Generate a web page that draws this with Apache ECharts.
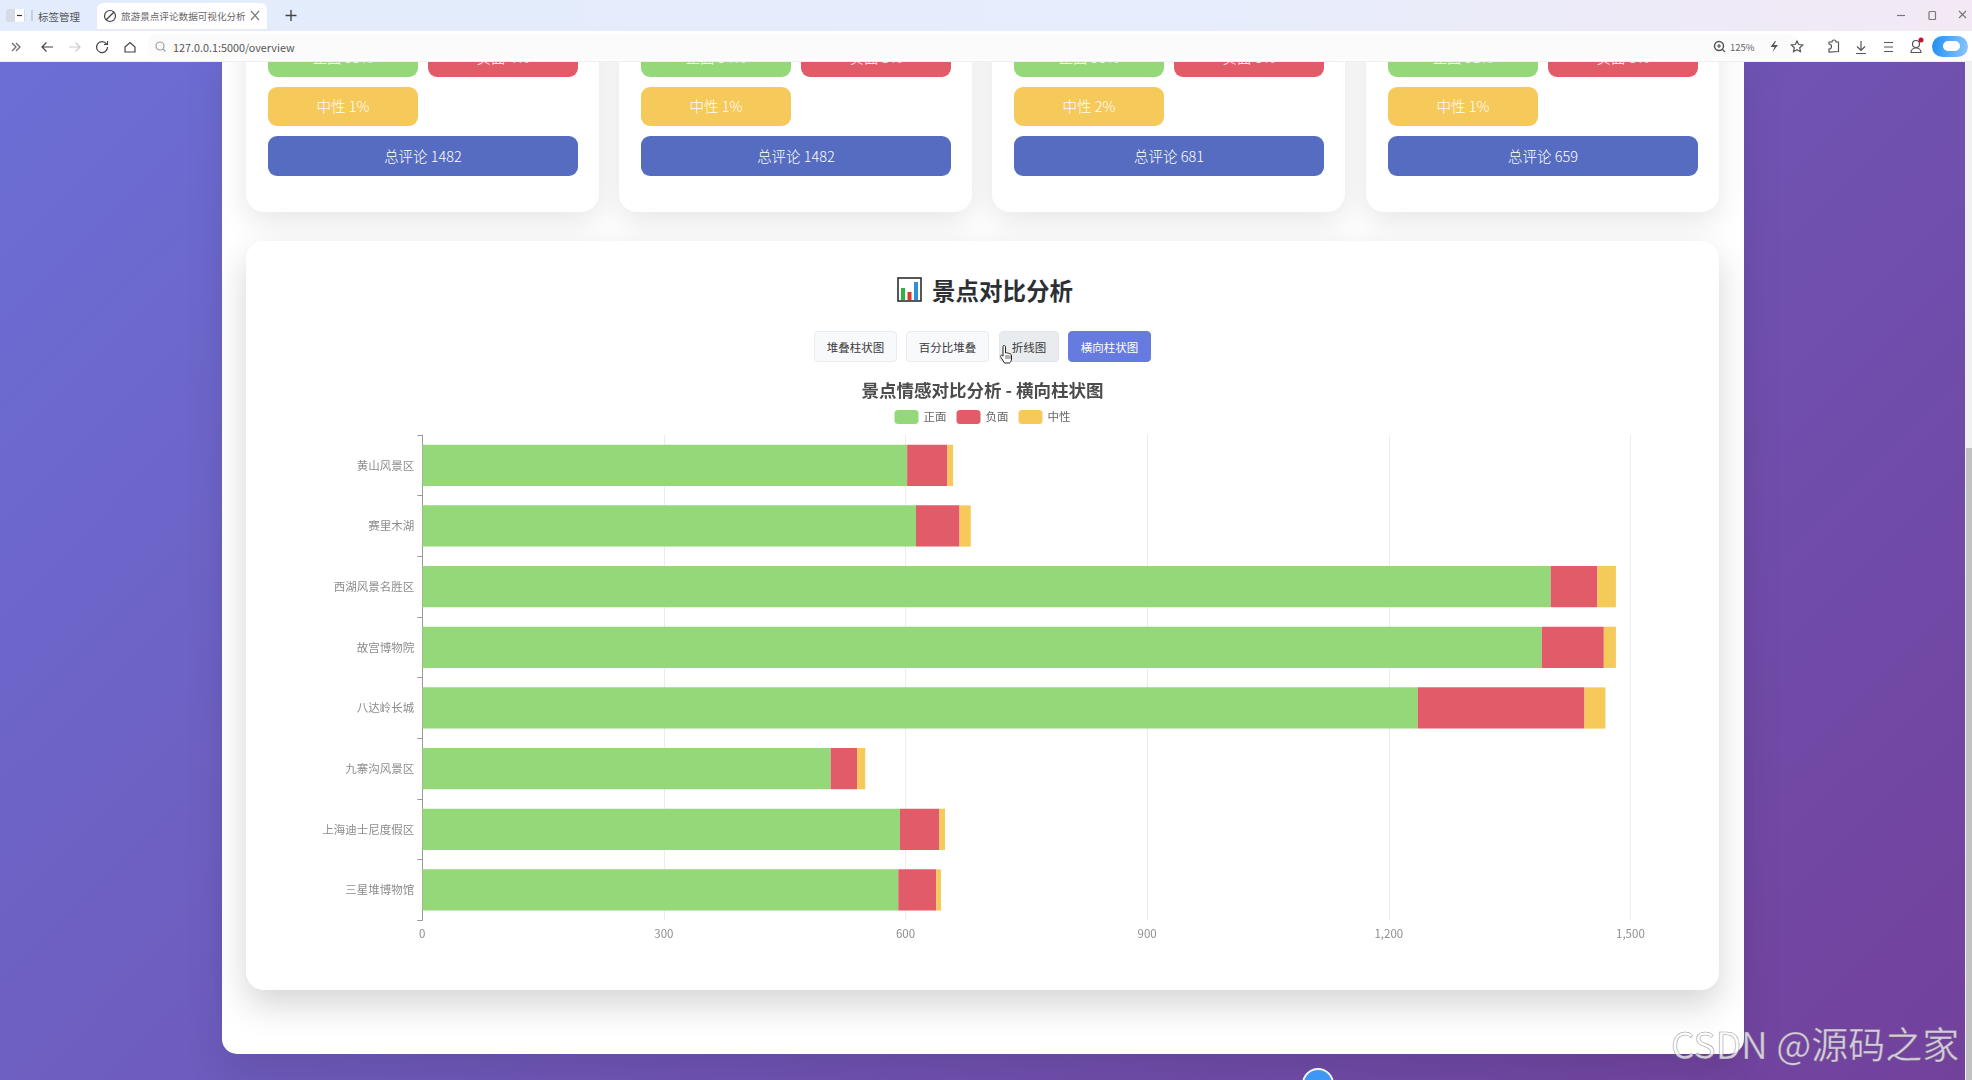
<!DOCTYPE html>
<html lang="zh">
<head>
<meta charset="utf-8">
<title>旅游景点评论数据可视化分析系统</title>
<script src="https://cdn.jsdelivr.net/npm/echarts@6/dist/echarts.min.js"></script>
<style>
*{box-sizing:border-box}
html,body{margin:0;padding:0;width:1972px;height:1080px;overflow:hidden;background:#6a5fc0;font-family:"Noto Sans CJK SC","Noto Sans",sans-serif}
.abs{position:absolute}
#bg{left:0;top:-300px;width:1972px;height:1380px;background:linear-gradient(135deg,#6b74dc 0%,#72419c 100%)}
#shell{left:222px;top:40px;width:1522px;height:1014px;background:#fff;border-radius:0 0 15px 15px;box-shadow:0 20px 40px rgba(0,0,0,.1)}
.card{position:absolute;background:#fff;border-radius:18px;box-shadow:0 10px 30px rgba(0,0,0,.1)}
.pill{position:absolute;color:#fff;font-size:14.5px;font-weight:300;display:flex;align-items:center;justify-content:center;border-radius:9px;padding-bottom:2px}
#chartCard{left:246px;top:241px;width:1473px;height:749px;background:#fff;border-radius:18px;box-shadow:0 15px 35px rgba(0,0,0,.17)}
#heading{left:932px;top:272px;white-space:nowrap;font-size:23.5px;font-weight:700;color:#2c3034;line-height:36px}
.btn{position:absolute;top:331px;height:31px;border-radius:4px;font-size:11.5px;display:flex;align-items:center;justify-content:center;color:#3a3a3a;background:#f8f9fa;border:1px solid #e9ecef}
#main{left:246px;top:370px;width:1473px;height:600px}
#tabbar{left:0;top:0;width:1972px;height:31px;background:linear-gradient(90deg,#e3ecfc 0%,#e6edfc 60%,#f3e9f5 100%)}
#toolbar{left:0;top:31px;width:1972px;height:31px;background:#fff;border-bottom:1px solid #eceef1}
#urlbox{left:148px;top:34px;width:1650px;height:25px;background:#fbfbfc;border-radius:8px}
.t{position:absolute;white-space:nowrap;color:#555}
#scroll{left:1965px;top:62px;width:7px;height:1018px;background:#f1f1f1}
#thumb{left:1966px;top:448px;width:6px;height:632px;background:#c2c2c2}
#wm{left:1671px;top:1018px;font-size:37px;color:rgba(255,255,255,.72);white-space:nowrap;-webkit-text-stroke:.6px rgba(90,90,90,.65);line-height:50px}
</style>
</head>
<body>
<div id="bg" class="abs"></div>
<div id="shell" class="abs"></div>
<div id="cards"></div>
<div id="chartCard" class="abs"></div>

<svg class="abs" style="left:897px;top:277px" width="25" height="25" viewBox="0 0 25 25">
<rect x="1" y="1" width="23" height="23" fill="#fff" stroke="#2a2f33" stroke-width="1.6"/>
<rect x="4" y="11" width="4" height="12" fill="#2fb344"/><rect x="10.5" y="15" width="4" height="8" fill="#d8392b"/><rect x="17" y="5" width="4" height="18" fill="#2f8fd8"/>
</svg>
<div id="heading" class="abs">景点对比分析</div>
<div id="btns"></div>
<div id="main" class="abs"></div>

<svg class="abs" style="left:999px;top:344px" width="16" height="20" viewBox="0 0 16 20">
<path d="M5 1.5c1 0 1.5.6 1.5 1.500v6l1-.3 1 .3 1 .2 1.200.4c1 .3 1.800 1 1.800 2.400v3c0 1.500-1 3.500-2 4H5.500L2 13.500c-.7-.9-.6-1.800.1-2.200.6-.3 1.200 0 1.900.9V3c0-.9.1-1.500 1-1.500z" fill="#fff" stroke="#222" stroke-width="1"/>
<path d="M7 11v4M9 11v4M11 11.500v3.500" stroke="#222" stroke-width=".7"/>
</svg>

<div id="scroll" class="abs"></div><div id="thumb" class="abs"></div>
<div class="abs" style="left:1302px;top:1068px;width:32px;height:32px;border-radius:50%;background:#3f97f4;border:2px solid #f2f6fb"></div>
<div id="wm" class="abs">CSDN @源码之家</div>

<div id="tabbar" class="abs"></div>
<div class="abs" style="left:97px;top:3px;width:170px;height:26px;background:#fff;border-radius:6px 6px 0 0"></div>
<div id="toolbar" class="abs"></div>
<div id="urlbox" class="abs"></div>
<svg class="abs" style="left:0;top:0" width="1972" height="62" viewBox="0 0 1972 62" fill="none" stroke="#555" stroke-width="1.2">
<rect x="6" y="9" width="19" height="13" rx="2.500" fill="#d6dbe6" stroke="none"/><rect x="15" y="9" width="9" height="13" fill="#fff" stroke="none"/><path d="M17 15.500h5" stroke="#333"/><path d="M32 10v11" stroke="#b5bac4"/>
<circle cx="110" cy="16" r="5.500" stroke="#444"/><path d="M106 20l8-8" stroke="#444"/>
<path d="M251 11l8 9M259 11l-8 9" stroke="#777"/>
<path d="M291 10v11M285.500 15.500h11" stroke="#444" stroke-width="1.400"/>
<path d="M12 43l4 4-4 4M16 43l4 4-4 4" stroke="#666"/>
<path d="M42 47h11M46.500 42.500L42 47l4.500 4.500" stroke="#444"/>
<path d="M69 47h11M75.500 42.500L80 47l-4.500 4.500" stroke="#c9ccd1"/>
<path d="M106.500 44a5.500 5.500 0 1 0 1 3M107.500 41v3.500H104" stroke="#444"/>
<path d="M125 52v-5l5-4.500 5 4.500v5z" stroke="#444"/>
<circle cx="160" cy="46" r="4" stroke="#9aa0a6"/><path d="M163 49l2.500 2.500" stroke="#9aa0a6"/>
<circle cx="1719" cy="46" r="4.500" stroke="#555" stroke-width="1.500"/><path d="M1722.500 49.500l2.500 2.500M1717 46h4M1719 44v4" stroke="#555"/>
<path d="M1775 41l-4.500 6h4l-2 5 5.500-7h-4l2-4z" fill="#555" stroke="none"/>
<path d="M1797 41l1.700 3.500 4 .5-3 2.700.8 4-3.500-2-3.500 2 .8-4-3-2.700 4-.5z" stroke="#555"/>
<path d="M1829 52v-3a2 2 0 0 0 0-5v-2h3a2 2 0 0 1 4 0h2.500v9.500z" stroke="#555"/>
<path d="M1861 41v9M1857 46.500l4 4 4-4M1856 53.500h10" stroke="#555"/>
<path d="M1884 42.500h9M1884 47h9M1884 51.500h9" stroke="#555"/>
<circle cx="1916" cy="44" r="3.500" stroke="#555"/><path d="M1911 52.500c0-6 10-6 10 0z" stroke="#555"/><circle cx="1921" cy="40" r="2.500" fill="#c0142a" stroke="none"/>
<path d="M1897 15.500h8" stroke="#777"/>
<rect x="1929" y="11.500" width="6.500" height="8" rx="1" stroke="#777"/>
<path d="M1959 11l7 7M1966 11l-7 7" stroke="#777"/>
</svg>
<div class="abs" style="left:1932px;top:36px;width:36px;height:21px;border-radius:11px;background:linear-gradient(100deg,#1f8df0,#8cc8ff)"></div>
<div class="abs" style="left:1943px;top:41px;width:17px;height:10px;border-radius:6px;background:#fff"></div>
<div class="t" style="left:38px;top:9px;font-size:10.5px;color:#555">标签管理</div>
<div class="t" style="left:121px;top:9px;font-size:9.6px;width:125px;overflow:hidden;color:#666">旅游景点评论数据可视化分析系统</div>
<div class="t" style="left:173px;top:39px;font-size:10.8px;color:#555">127.0.0.1:5000/overview</div>
<div class="t" style="left:1730px;top:40px;font-size:9.5px;color:#666">125%</div>

<script>
// 数据
const categories = ['黄山风景区', '赛里木湖', '西湖风景名胜区', '故宫博物院', '八达岭长城', '九寨沟风景区', '上海迪士尼度假区', '三星堆博物馆'];
const positive = [602, 613, 1401, 1390, 1236, 507, 593, 591];
const negative = [50, 54, 58, 77, 207, 33, 49, 47];
const neutral = [7, 14, 23, 15, 26, 10, 7, 6];
const legendNames = ['正面', '负面', '中性'];
const axisTicks = [0, 300, 600, 900, 1200, 1500];
const cardPositive = ['正面 95%', '正面 94%', '正面 90%', '正面 91%'];
const cardNegative = ['负面 4%', '负面 5%', '负面 8%', '负面 8%'];
const cardNeutral = ['中性 1%', '中性 1%', '中性 2%', '中性 1%'];
const cardTotals = ['总评论 1482', '总评论 1482', '总评论 681', '总评论 659'];
const buttonLabels = ['堆叠柱状图', '百分比堆叠', '折线图', '横向柱状图'];

const colors = ['#95d87a', '#e25b69', '#f6c95b'];

// page furniture
const cardLeft = [246, 619, 992, 1366];
document.getElementById('cards').innerHTML = cardLeft.map((x, i) => `
  <div class="card" style="left:${x}px;top:20px;width:353px;height:192px"></div>
  <div class="pill" style="left:${x + 22}px;top:37px;width:150px;height:40px;background:${colors[0]}">${cardPositive[i]}</div>
  <div class="pill" style="left:${x + 182}px;top:37px;width:150px;height:40px;background:${colors[1]}">${cardNegative[i]}</div>
  <div class="pill" style="left:${x + 22}px;top:87px;width:150px;height:39px;background:${colors[2]}">${cardNeutral[i]}</div>
  <div class="pill" style="left:${x + 22}px;top:136px;width:310px;height:40px;background:#556cc0">${cardTotals[i]}</div>`).join('');

const btnGeom = [[814, 83], [906, 83], [999, 60], [1068, 83]];
document.getElementById('btns').innerHTML = buttonLabels.map((t, i) => {
  const extra = i === 3 ? 'background:#667ae0;color:#fff;border-color:#667ae0' : (i === 2 ? 'background:#e9ecef;border-color:#e2e5e9' : '');
  return `<div class="btn" style="left:${btnGeom[i][0]}px;width:${btnGeom[i][1]}px;${extra}">${t}</div>`;
}).join('');

// chart
const chart = echarts.init(document.getElementById('main'), null, { renderer: 'canvas' });
const font = '"Noto Sans CJK SC","Noto Sans",sans-serif';
const seriesValues = [positive, negative, neutral];
chart.setOption({
  animation: false,
  color: colors,
  title: {
    text: '景点情感对比分析 - 横向柱状图',
    left: 'center',
    top: 7,
    textStyle: { fontSize: 17.5, fontWeight: 'bold', color: '#4c4c4c', fontFamily: font }
  },
  legend: {
    data: legendNames,
    top: 35,
    left: 'center',
    itemWidth: 24,
    itemHeight: 14,
    itemGap: 10,
    textStyle: { fontSize: 11.5, color: '#666', fontFamily: font }
  },
  grid: { left: 176.3, right: 88.6, top: 65, bottom: 49.7 },
  xAxis: {
    type: 'value',
    min: axisTicks[0],
    max: axisTicks[axisTicks.length - 1],
    interval: axisTicks[1] - axisTicks[0],
    axisLine: { show: false },
    axisTick: { show: false },
    splitLine: { show: true, lineStyle: { color: '#e9ecf1', width: 1 } },
    axisLabel: { fontSize: 11.5, color: '#8f8f8f', margin: 8, fontFamily: font, formatter: v => v.toLocaleString('en-US') }
  },
  yAxis: {
    type: 'category',
    inverse: true,
    data: categories,
    axisLine: { show: true, lineStyle: { color: '#999', width: 1 } },
    axisTick: { show: true, length: 5, alignWithLabel: false, lineStyle: { color: '#999' } },
    axisLabel: { fontSize: 11.5, color: '#8c8c8c', margin: 8, fontFamily: font }
  },
  series: legendNames.map((name, i) => ({
    name,
    type: 'bar',
    stack: 'total',
    barCategoryGap: '32%',
    data: seriesValues[i],
    itemStyle: { color: colors[i], borderWidth: 0 },
    emphasis: { disabled: true }
  }))
});
</script>
</body>
</html>
